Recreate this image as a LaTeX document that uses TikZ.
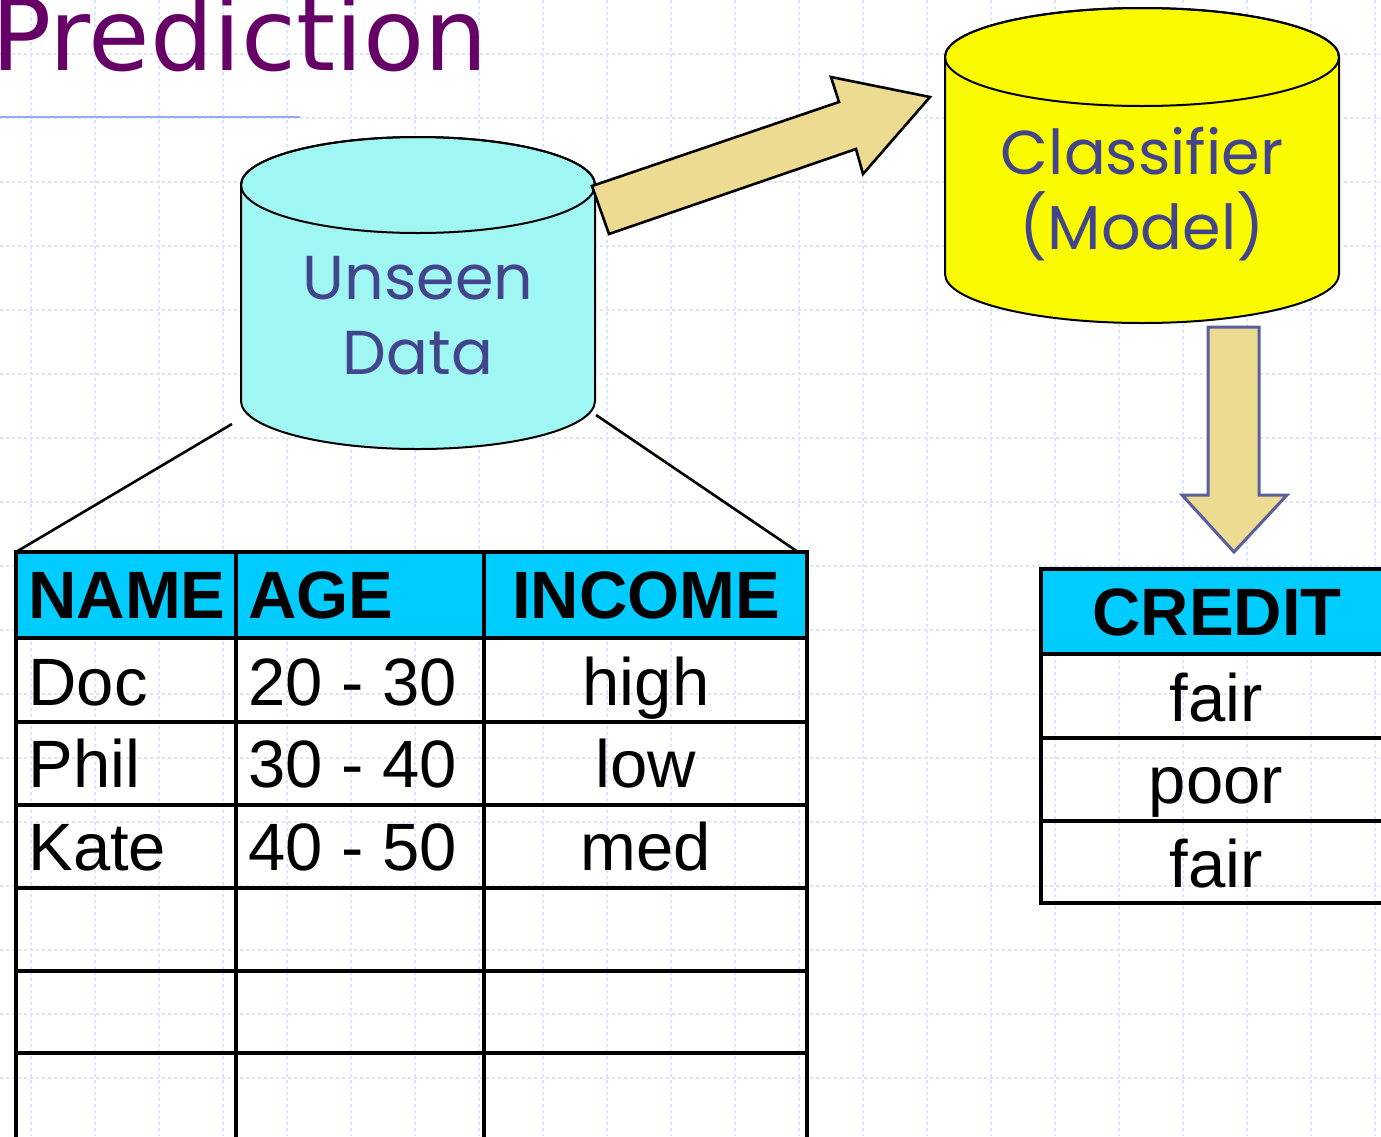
\documentclass[tikz,border=0pt]{standalone}
\usepackage{fontspec}
\setmainfont{Liberation Sans}
\newfontfamily\titlefont{DejaVu Sans}
\newfontfamily\handfont{Poppins}
\usepackage{xcolor}
\usepackage{tikz}

\definecolor{gridblue}{RGB}{218,228,255}
\definecolor{titlepurple}{RGB}{102,0,102}
\definecolor{rulerblue}{RGB}{150,170,245}
\definecolor{datacyan}{RGB}{160,246,242}
\definecolor{modelyellow}{RGB}{250,250,0}
\definecolor{penblue}{RGB}{67,69,140}
\definecolor{arrowtan}{RGB}{238,219,146}
\definecolor{arrowblue}{RGB}{88,94,160}
\definecolor{hdrblue}{RGB}{0,204,255}

\begin{document}
\begin{tikzpicture}[
    x=0.5pt, y=-0.5pt,
    gridline/.style={draw=gridblue, line width=0.6pt, dash pattern=on 1.5pt off 1.5pt},
    cylline/.style={draw=black, line width=1pt},
    link/.style={line width=1.3pt},
    blockarrow/.style={fill=arrowtan, line width=1.3pt, line join=miter},
    tblline/.style={line width=2pt, line cap=rect},
    hdr/.style={font=\fontsize{33.5}{36}\selectfont\bfseries, inner sep=0pt},
    cell/.style={font=\fontsize{33.5}{36}\selectfont, inner sep=0pt},
    cyltext/.style={font=\handfont\fontsize{31}{37.5}\selectfont, text=penblue, align=center, inner sep=0pt}
]
\useasboundingbox (0,0) rectangle (1381,1136);

% background grid
\foreach \gx in {31,95,...,1375}
    \draw[gridline] (\gx,0) -- (\gx,1136);
\foreach \gy in {54,118,...,1136}
    \draw[gridline] (0,\gy) -- (1381,\gy);

% title
\node[anchor=base west, inner sep=0pt, font=\titlefont\fontsize{50}{54}\selectfont, text=titlepurple] (title) at (-9,70) {Prediction};
\draw[draw=rulerblue, line width=1pt] (0,117) -- (300,117);

% links from the data store to the table
\coordinate (unseenL) at (232,424);
\coordinate (unseenR) at (596,415);
\coordinate (tblNW) at (16,552);
\coordinate (tblNE) at (798,552);
\draw[link] (unseenL) -- (tblNW);
\draw[link] (unseenR) -- (tblNE);

% unseen data cylinder
\draw[cylline, fill=datacyan] (241,185) -- (241,401) arc[start angle=180, end angle=0, x radius=177, y radius=48]
    -- (595,185) arc[start angle=0, end angle=-180, x radius=177, y radius=48] -- cycle;
\draw[cylline] (418,185) ellipse[x radius=177, y radius=48];
\node[cyltext] (unseen) at (418,316) {Unseen\\Data};

% classifier cylinder
\draw[cylline, fill=modelyellow] (945,57) -- (945,274) arc[start angle=180, end angle=0, x radius=197, y radius=49]
    -- (1339,57) arc[start angle=0, end angle=-180, x radius=197, y radius=49] -- cycle;
\draw[cylline] (1142,57) ellipse[x radius=197, y radius=49];
\node[cyltext] (classifier) at (1142,194) {Classifier\\(Model)};

% block arrows
\draw[blockarrow] (592,186) -- (839,102) -- (831,77) -- (930,97) -- (863,174) -- (856,149) -- (609,234) -- cycle;
\draw[blockarrow, draw=arrowblue, line width=1.5pt] (1208,327) -- (1259,327) -- (1259,495) -- (1287,495)
    -- (1234,552) -- (1182,495) -- (1208,495) -- cycle;

% data table
\fill[hdrblue] (16,552) rectangle (807,638);
\foreach \ry in {552,638,722,805,888,971,1053}
    \draw[tblline] (16,\ry) -- (807,\ry);
\foreach \cx in {16,236,484,807}
    \draw[tblline] (\cx,552) -- (\cx,1140);

\node[hdr, anchor=base west] (hname) at (28,618) {NAME};
\node[hdr, anchor=base west] (hage) at (248,618) {AGE};
\node[hdr, anchor=base] (hincome) at (646,618) {INCOME};
\node[cell, anchor=base west] (n1) at (28,705) {Doc};
\node[cell, anchor=base west] (n2) at (28,787) {Phil};
\node[cell, anchor=base west] (n3) at (28,870) {Kate};
\node[cell, anchor=base west] (a1) at (248,705) {20 - 30};
\node[cell, anchor=base west] (a2) at (248,787) {30 - 40};
\node[cell, anchor=base west] (a3) at (248,870) {40 - 50};
\node[cell, anchor=base] (i1) at (646,705) {high};
\node[cell, anchor=base] (i2) at (646,787) {low};
\node[cell, anchor=base] (i3) at (646,870) {med};

% credit column
\fill[hdrblue] (1041,569) rectangle (1395,654);
\foreach \ry in {569,654,738,821,903}
    \draw[tblline] (1041,\ry) -- (1395,\ry);
\draw[tblline] (1041,569) -- (1041,903);

\node[hdr, anchor=base] (hcredit) at (1217,635) {CREDIT};
\node[cell, anchor=base] (c1) at (1216,721) {fair};
\node[cell, anchor=base] (c2) at (1216,803) {poor};
\node[cell, anchor=base] (c3) at (1216,887) {fair};
\end{tikzpicture}
\end{document}
